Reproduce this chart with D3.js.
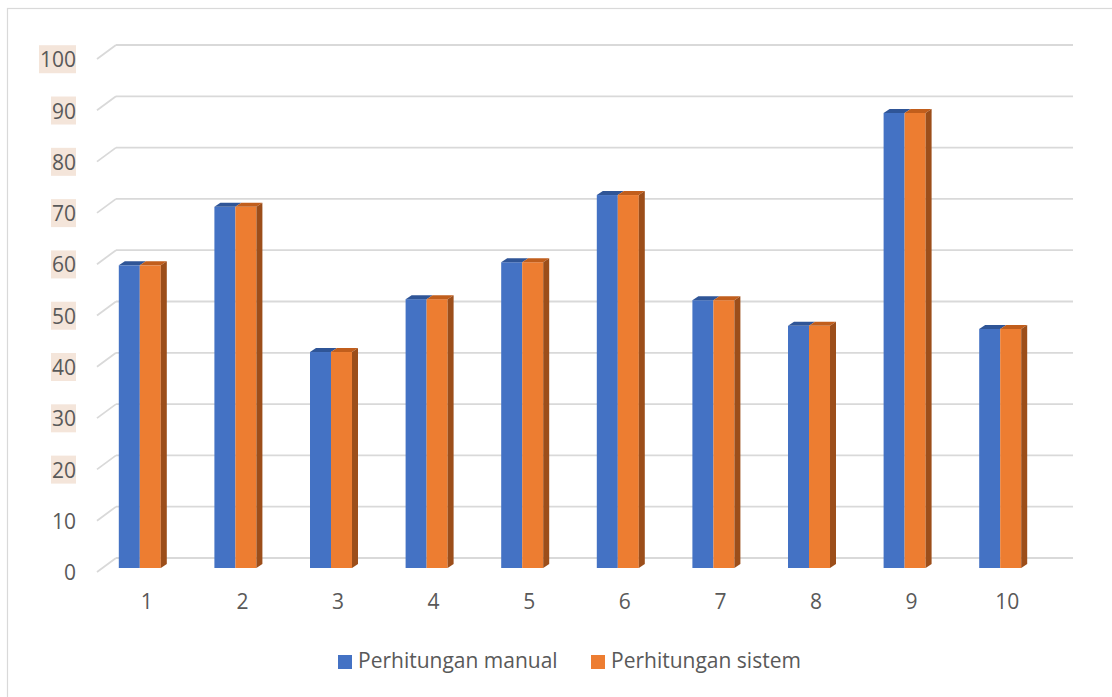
<!DOCTYPE html>
<html>
<head>
<meta charset="utf-8">
<script src="https://cdn.jsdelivr.net/npm/d3@7"></script>
<style>
  body { margin: 0; background: #fff; }
  text { font-family: "Open Sans", "Noto Sans", sans-serif; fill: #595959; }
</style>
</head>
<body>
<div id="chart"></div>
<script>
// Datos
const categories = ["1", "2", "3", "4", "5", "6", "7", "8", "9", "10"];
const manualValues = [59, 70.4, 42.1, 52.4, 59.6, 72.7, 52.2, 47.2, 88.7, 46.6];
const sistemValues = [59, 70.4, 42.1, 52.4, 59.6, 72.7, 52.2, 47.2, 88.7, 46.6];
const yTicks = [0, 10, 20, 30, 40, 50, 60, 70, 80, 90, 100];
const seriesNames = ["Perhitungan manual", "Perhitungan sistem"];

const width = 1112;
const height = 697;

// Grosor de cada barra (efecto 3D)
const barDepth = { dx: 6, dy: -4 };

const colors = {
  blue: "#4472C4", blueTop: "#2F5597",
  orange: "#ED7D31", orangeTop: "#C15E1C", orangeSide: "#9C4E1A",
  grid: "#D9D9D9",
};

const fontSize = "21px";

const svg = d3.select("div#chart").append("svg")
  .attr("width", width).attr("height", height);

// Marco exterior
svg.append("rect")
  .attr("x", 7.5).attr("y", 8.5)
  .attr("width", 1112).attr("height", 700)
  .attr("fill", "none").attr("stroke", colors.grid).attr("stroke-width", 1.2);

// Escalas (plano frontal de las barras)
const x = d3.scaleBand().domain(categories).range([99, 1055]);
const y = d3.scaleLinear().domain([0, 100]).range([568, 55]);

const gridGroup = svg.append("g");
const barGroup = svg.append("g");

// Rejilla: pared del fondo + conectores diagonales
const backY = (v) => y(v) - 10;
yTicks.forEach((t) => {
  gridGroup.append("line")
    .attr("x1", 116).attr("x2", 1073)
    .attr("y1", backY(t)).attr("y2", backY(t))
    .attr("stroke", colors.grid).attr("stroke-width", 1.8);
  gridGroup.append("line")
    .attr("x1", 97).attr("y1", backY(t) + 14)
    .attr("x2", 116).attr("y2", backY(t))
    .attr("stroke", colors.grid).attr("stroke-width", 1.8);
});

// Barras 3D
const barW = 21;
const data = categories.map((c, i) => ({ cat: c, manual: manualValues[i], sistem: sistemValues[i] }));

const groups = barGroup.selectAll("g.bar").data(data).join("g").attr("class", "bar");

const poly = (pts) => pts.map((p) => p.join(",")).join(" ");

groups.each(function (d) {
  const g = d3.select(this);
  const cx = x(d.cat) + x.bandwidth() / 2 - 7;
  const x0 = cx - barW, x1 = cx, x2 = cx + barW;
  const yb = y(0);
  const ym = y(d.manual), ys = y(d.sistem);
  const { dx, dy } = barDepth;

  // cara frontal azul
  g.append("rect").attr("x", x0).attr("y", ym).attr("width", barW).attr("height", yb - ym)
    .attr("fill", colors.blue);
  // tapa azul
  g.append("polygon").attr("points", poly([[x0, ym], [x0 + dx, ym + dy], [x1 + dx, ym + dy], [x1, ym]]))
    .attr("fill", colors.blueTop);
  // cara frontal naranja
  g.append("rect").attr("x", x1).attr("y", ys).attr("width", barW).attr("height", yb - ys)
    .attr("fill", colors.orange);
  // tapa naranja
  g.append("polygon").attr("points", poly([[x1, ys], [x1 + dx, ys + dy], [x2 + dx, ys + dy], [x2, ys]]))
    .attr("fill", colors.orangeTop);
  // lateral naranja
  g.append("polygon").attr("points", poly([[x2, ys], [x2 + dx, ys + dy], [x2 + dx, yb + dy], [x2, yb]]))
    .attr("fill", colors.orangeSide);
});

// Eje X
const xAxis = d3.axisBottom(x).tickSize(0).tickPadding(0);
const xAxisGroup = svg.append("g").attr("transform", "translate(0, 609)").call(xAxis);
xAxisGroup.select(".domain").remove();
xAxisGroup.selectAll("text")
  .attr("dy", 0)
  .style("font-size", fontSize)
  .style("fill", "#595959");

// Eje Y (etiquetas en el plano frontal)
const yLabel = d3.scaleLinear().domain([0, 100]).range([y(0) + 5, y(100) + 5]);
const yAxis = d3.axisLeft(yLabel).tickValues(yTicks).tickSize(0).tickPadding(0);
const yAxisGroup = svg.append("g").attr("transform", "translate(76, 0)").call(yAxis);
yAxisGroup.select(".domain").remove();
yAxisGroup.selectAll("text")
  .style("font-size", fontSize)
  .style("fill", "#595959");

// fondo resaltado de las etiquetas (20 a 100)
yAxisGroup.selectAll(".tick").each(function (t) {
  if (t < 20) return;
  const tick = d3.select(this);
  const bb = tick.select("text").node().getBBox();
  tick.insert("rect", "text")
    .attr("x", bb.x - 1).attr("y", bb.y)
    .attr("width", bb.width + 1).attr("height", bb.height)
    .attr("fill", "#F4E5DA");
});

// Leyenda
const legend = svg.append("g");
const legendItems = [
  { name: seriesNames[0], color: colors.blue, x: 338 },
  { name: seriesNames[1], color: colors.orange, x: 591 },
];
legendItems.forEach((it) => {
  legend.append("rect").attr("x", it.x).attr("y", 655).attr("width", 14).attr("height", 14)
    .attr("fill", it.color);
  legend.append("text").attr("x", it.x + 20).attr("y", 662)
    .attr("dominant-baseline", "middle")
    .style("font-size", fontSize)
    .text(it.name);
});
</script>
</body>
</html>
